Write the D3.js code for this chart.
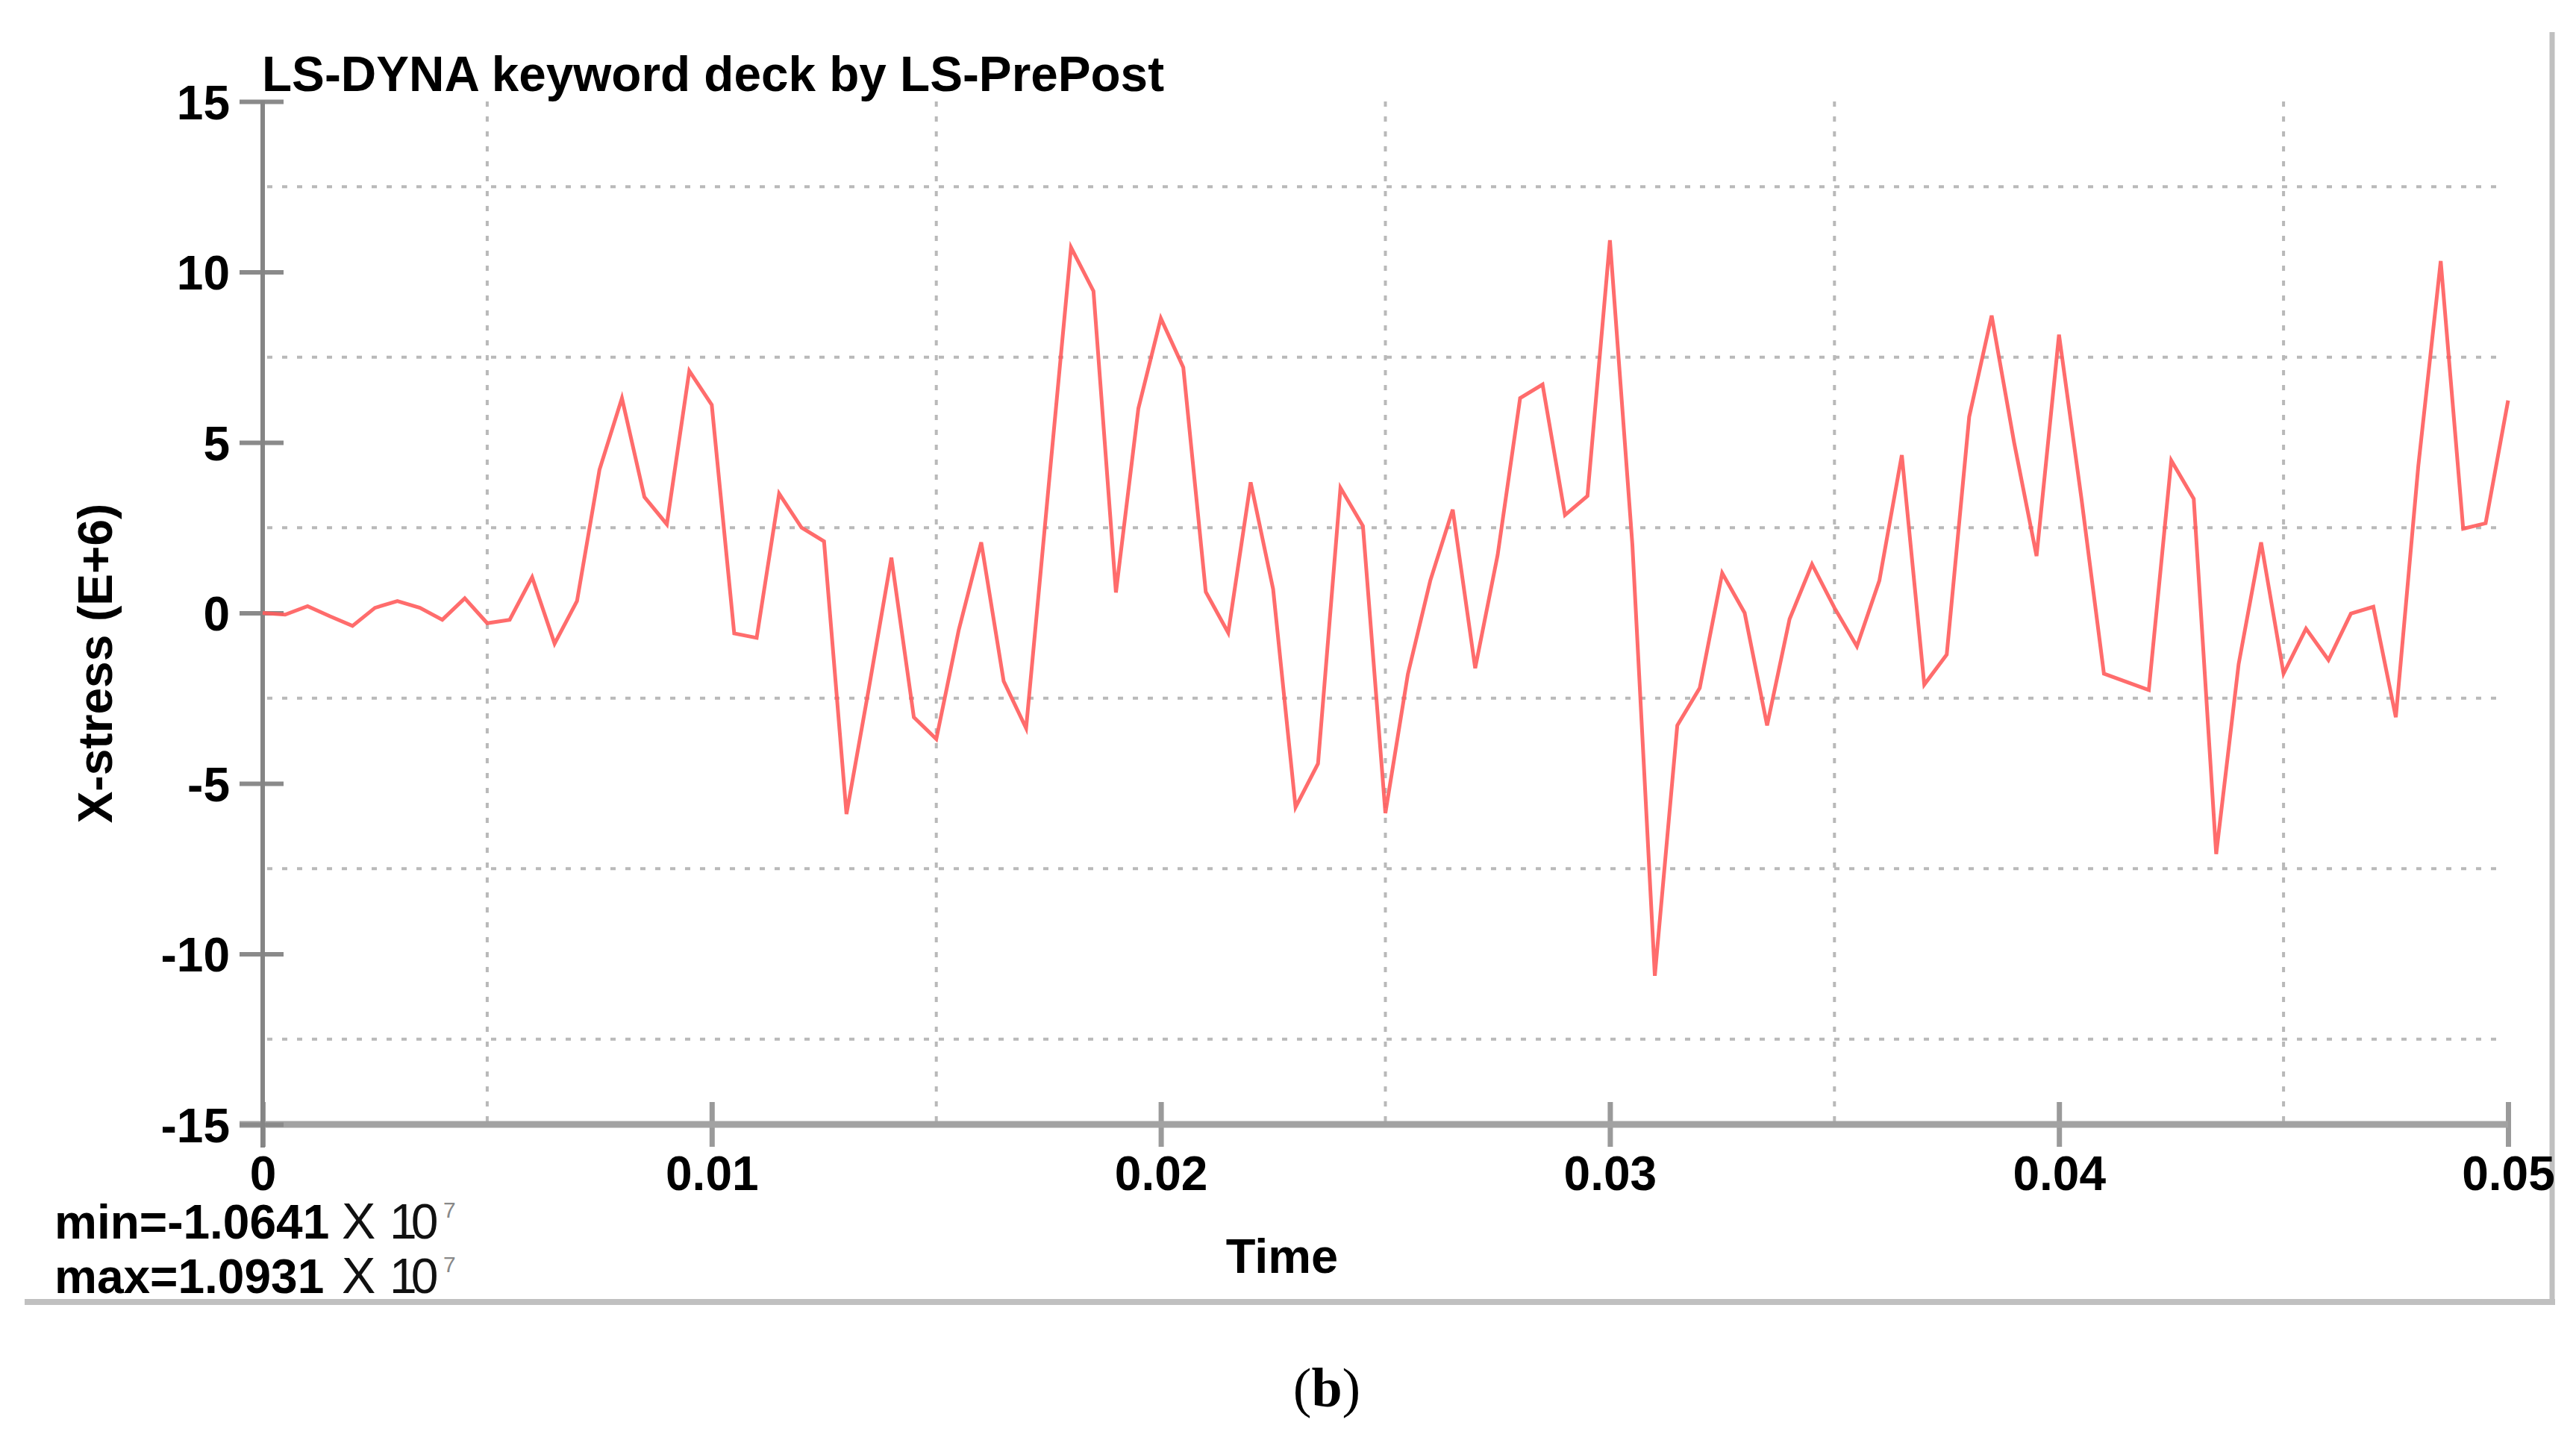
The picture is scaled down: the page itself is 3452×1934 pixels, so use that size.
<!DOCTYPE html>
<html><head><meta charset="utf-8">
<script src="https://cdn.jsdelivr.net/npm/d3@7/dist/d3.min.js"></script>
<style>body{margin:0;background:#fff}svg{display:block}</style>
</head><body>
<script>
// ---- data (time in s, X-stress in E+6) ----
const timeValues = [
 0,0.0005,0.001,0.0015,0.002,0.0025,0.003,0.0035,0.004,0.0045,
 0.005,0.0055,0.006,0.0065,0.007,0.0075,0.008,0.0085,0.009,0.0095,
 0.01,0.0105,0.011,0.0115,0.012,0.0125,0.013,0.0135,0.014,0.0145,
 0.015,0.0155,0.016,0.0165,0.017,0.0175,0.018,0.0185,0.019,0.0195,
 0.02,0.0205,0.021,0.0215,0.022,0.0225,0.023,0.0235,0.024,0.0245,
 0.025,0.0255,0.026,0.0265,0.027,0.0275,0.028,0.0285,0.029,0.0295,
 0.03,0.0305,0.031,0.0315,0.032,0.0325,0.033,0.0335,0.034,0.0345,
 0.035,0.0355,0.036,0.0365,0.037,0.0375,0.038,0.0385,0.039,0.0395,
 0.04,0.0405,0.041,0.0415,0.042,0.0425,0.043,0.0435,0.044,0.0445,
 0.045,0.0455,0.046,0.0465,0.047,0.0475,0.048,0.0485,0.049,0.0495,
 0.05];
const stressValues = [
 0,-0.05,0.2,-0.1,-0.38,0.15,0.35,0.15,-0.2,0.43,
 -0.3,-0.2,1.05,-0.9,0.35,4.2,6.3,3.4,2.6,7.1,
 6.1,-0.6,-0.73,3.5,2.5,2.1,-5.9,-2.2,1.62,-3.06,
 -3.7,-0.5,2.07,-2.0,-3.38,3.7,10.72,9.44,0.6,6.0,
 8.64,7.2,0.62,-0.58,3.83,0.7,-5.7,-4.42,3.67,2.55,
 -5.87,-1.8,0.95,3.03,-1.62,1.7,6.3,6.7,2.87,3.43,
 10.93,2.0,-10.64,-3.3,-2.2,1.17,0.0,-3.3,-0.18,1.43,
 0.15,-0.98,0.95,4.63,-2.1,-1.22,5.75,8.72,5.0,1.67,
 8.16,3.35,-1.78,-2.02,-2.26,4.47,3.35,-7.07,-1.5,2.07,
 -1.78,-0.46,-1.38,-0.02,0.18,-3.06,4.3,10.32,2.47,2.63,
 6.23];
const xTickValues = [0, 0.01, 0.02, 0.03, 0.04, 0.05];
const xTickLabels = ["0", "0.01", "0.02", "0.03", "0.04", "0.05"];
const yTickValues = [-15, -10, -5, 0, 5, 10, 15];
const yTickLabels = ["-15", "-10", "-5", "0", "5", "10", "15"];
const xGridValues = [0.005, 0.015, 0.025, 0.035, 0.045];
const yGridValues = [-12.5, -7.5, -2.5, 2.5, 7.5, 12.5];
const titleText = "LS-DYNA keyword deck by LS-PrePost";
const xLabelText = "Time";
const yLabelText = "X-stress (E+6)";
const minText = "min=-1.0641";
const maxText = "max=1.0931";
const captionLetter = "b";

// ---- drawing ----
const W = 3452, H = 1934;
const FONT = "'Liberation Sans', Arial, Helvetica, sans-serif";
const svg = d3.select("body").append("svg").attr("width", W).attr("height", H)
  .style("background", "#fff");

const x = d3.scaleLinear().domain([0, 0.05]).range([352, 3361]);
const y = d3.scaleLinear().domain([-15, 15]).range([1507, 136]);

// frame (right + bottom)
svg.append("line").attr("x1", 33).attr("x2", 3424).attr("y1", 1745).attr("y2", 1745)
  .attr("stroke", "#c0c0c0").attr("stroke-width", 8);
svg.append("line").attr("x1", 3420).attr("x2", 3420).attr("y1", 43).attr("y2", 1749)
  .attr("stroke", "#c0c0c0").attr("stroke-width", 7);

// grid
const grid = svg.append("g").attr("stroke", "#b9b9b9").attr("stroke-width", 4)
  .attr("stroke-dasharray", "7 13");
grid.selectAll("line.v").data(xGridValues).join("line").attr("class", "v")
  .attr("x1", d => x(d)).attr("x2", d => x(d)).attr("y1", y(15)).attr("y2", y(-15));
grid.selectAll("line.h").data(yGridValues).join("line").attr("class", "h")
  .attr("x1", x(0) + 6).attr("x2", 3355).attr("y1", d => y(d)).attr("y2", d => y(d));

// x axis
const xAxis = d3.axisBottom(x).tickValues(xTickValues)
  .tickFormat((d, i) => xTickLabels[i]).tickSize(0).tickPadding(0);
const gx = svg.append("g").attr("transform", `translate(0,${y(-15)})`).call(xAxis);
gx.select(".domain").remove();
gx.append("line").attr("x1", 321).attr("x2", x(0.05)).attr("y1", 0).attr("y2", 0)
  .attr("stroke", "#a2a2a2").attr("stroke-width", 9);
gx.selectAll(".tick line").attr("y1", -30).attr("y2", 30)
  .attr("stroke", "#9a9a9a").attr("stroke-width", 7);
gx.selectAll(".tick text").attr("y", 88).attr("dy", null)
  .attr("font-family", FONT).attr("font-weight", "bold").attr("font-size", 64)
  .attr("fill", "#000");

// y axis
const yAxis = d3.axisLeft(y).tickValues(yTickValues)
  .tickFormat((d, i) => yTickLabels[i]).tickSize(0).tickPadding(0);
const gy = svg.append("g").attr("transform", `translate(${x(0)},0)`).call(yAxis);
gy.select(".domain").remove();
gy.append("line").attr("x1", 0).attr("x2", 0).attr("y1", y(15) - 1).attr("y2", y(-15) + 31)
  .attr("stroke", "#858585").attr("stroke-width", 6);
gy.selectAll(".tick line").attr("x1", -31).attr("x2", 28)
  .attr("stroke", "#8a8a8a").attr("stroke-width", 6);
gy.selectAll(".tick text").attr("x", -44).attr("dy", "0.36em")
  .attr("font-family", FONT).attr("font-weight", "bold").attr("font-size", 64)
  .attr("fill", "#000");

// data line
const pts = timeValues.map((t, i) => [t, stressValues[i]]);
svg.append("path").datum(pts)
  .attr("fill", "none").attr("stroke", "#ff5c5c").attr("stroke-width", 5)
  .attr("stroke-linejoin", "miter").attr("stroke-opacity", 0.9)
  .attr("d", d3.line().x(d => x(d[0])).y(d => y(d[1])));

// title
svg.append("text").attr("x", 351).attr("y", 122).text(titleText)
  .attr("font-family", FONT).attr("font-weight", "bold").attr("font-size", 66)
  .attr("textLength", 1209).attr("lengthAdjust", "spacingAndGlyphs").attr("fill", "#000");

// axis labels
svg.append("text").attr("x", 1718).attr("y", 1706).attr("text-anchor", "middle").text(xLabelText)
  .attr("font-family", FONT).attr("font-weight", "bold").attr("font-size", 65).attr("fill", "#000");
svg.append("text").attr("transform", "translate(150,889) rotate(-90)").attr("text-anchor", "middle")
  .text(yLabelText).attr("font-family", FONT).attr("font-weight", "bold").attr("font-size", 64)
  .attr("fill", "#000");

// min / max annotations: "min=-1.0641 X 10^7"
[[minText, 1660], [maxText, 1733]].forEach(([s, by]) => {
  const t = svg.append("text").attr("x", 73).attr("y", by)
    .attr("font-family", FONT).attr("font-size", 64).attr("fill", "#000");
  t.append("tspan").attr("font-weight", "bold").text(s);
  t.append("tspan").attr("x", 458).attr("fill", "#111").attr("font-size", 68).text("X");
  t.append("tspan").attr("x", 522).attr("fill", "#111").attr("font-size", 66)
    .attr("letter-spacing", -8).text("10");
  t.append("tspan").attr("x", 594).attr("dy", -28).attr("font-size", 30)
    .attr("fill", "#888").text("7");
});

// caption
const cap = svg.append("text").attr("x", 1778).attr("y", 1885).attr("text-anchor", "middle")
  .attr("font-family", "'Liberation Serif', 'Times New Roman', serif").attr("font-size", 74)
  .attr("fill", "#000");
cap.append("tspan").text("(");
cap.append("tspan").attr("font-weight", "bold").text(captionLetter);
cap.append("tspan").text(")");
</script>
</body></html>
